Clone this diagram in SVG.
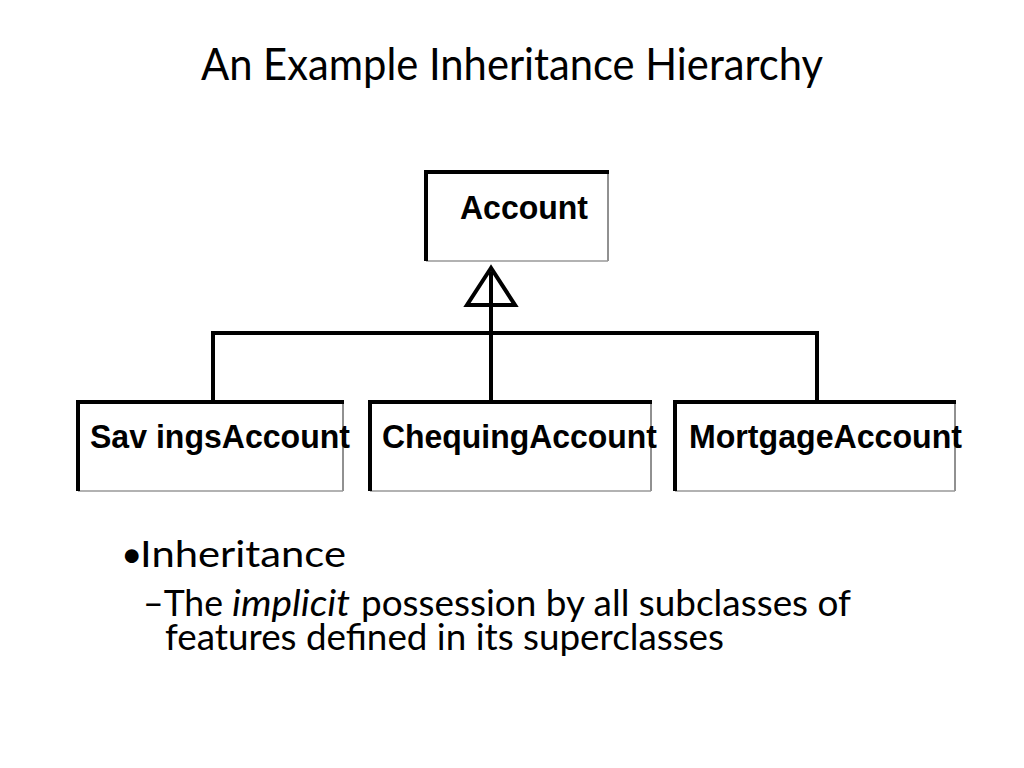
<svg xmlns="http://www.w3.org/2000/svg" width="1024" height="768" viewBox="0 0 1024 768">
<style>
.title{font-family:"Lato","Open Sans","Noto Sans",sans-serif;font-size:44px;fill:#000}
.body{font-family:"Lato","Open Sans","Noto Sans",sans-serif;font-size:37px;fill:#000}
.cls{font-family:"Liberation Sans",Arial,sans-serif;font-weight:bold;font-size:33px;fill:#000}
.box{fill:#fff;stroke:none}
.thick{stroke:#000;stroke-width:4;fill:none}
.thinr{stroke:#222;stroke-width:1;fill:none}
.thinb{stroke:#999;stroke-width:1.5;fill:none}
.conn{stroke:#000;stroke-width:4;fill:none}
</style>
<rect width="1024" height="768" fill="#fff"/>
<text class="title" x="201" y="80" textLength="622" lengthAdjust="spacingAndGlyphs">An Example Inheritance Hierarchy</text>

<g id="connectors">
<line class="conn" x1="491" y1="272" x2="491" y2="402"/>
<line class="conn" x1="213" y1="333" x2="819" y2="333"/>
<line class="conn" x1="213" y1="331" x2="213" y2="402"/>
<line class="conn" x1="817" y1="331" x2="817" y2="402"/>
<polygon class="conn" points="491,268 467,305 515,305" stroke-linejoin="miter"/>
</g>

<g id="account">
<rect class="box" x="426" y="172" width="182" height="89"/>
<line class="thinr" x1="608" y1="172" x2="608" y2="261"/>
<line class="thinb" x1="426" y1="261" x2="608" y2="261"/>
<polyline class="thick" points="426,261 426,172 609,172"/>
<text class="cls" x="460" y="219" textLength="128" lengthAdjust="spacingAndGlyphs">Account</text>
</g>

<g id="savings">
<rect class="box" x="78" y="402" width="265" height="89"/>
<line class="thinr" x1="343" y1="402" x2="343" y2="491"/>
<line class="thinb" x1="78" y1="491" x2="343" y2="491"/>
<polyline class="thick" points="78,491 78,402 344,402"/>
<text class="cls" x="90" y="448" textLength="260" lengthAdjust="spacingAndGlyphs">Sav ingsAccount</text>
</g>

<g id="chequing">
<rect class="box" x="370" y="402" width="281" height="89"/>
<line class="thinr" x1="651" y1="402" x2="651" y2="491"/>
<line class="thinb" x1="370" y1="491" x2="651" y2="491"/>
<polyline class="thick" points="370,491 370,402 652,402"/>
<text class="cls" x="382" y="448" textLength="275" lengthAdjust="spacingAndGlyphs">ChequingAccount</text>
</g>

<g id="mortgage">
<rect class="box" x="675" y="402" width="280" height="89"/>
<line class="thinr" x1="955" y1="402" x2="955" y2="491"/>
<line class="thinb" x1="675" y1="491" x2="955" y2="491"/>
<polyline class="thick" points="675,491 675,402 956,402"/>
<text class="cls" x="689" y="448" textLength="273" lengthAdjust="spacingAndGlyphs">MortgageAccount</text>
</g>

<text class="body" x="121" y="567" font-size="36">•</text>
<text class="body" x="140" y="567" font-size="41" textLength="206" lengthAdjust="spacingAndGlyphs">Inheritance</text>
<text class="body" x="143" y="616" textLength="80" lengthAdjust="spacingAndGlyphs">–The</text>
<text class="body" x="232" y="616" font-style="italic" textLength="118" lengthAdjust="spacingAndGlyphs">implicit</text>
<text class="body" x="361" y="616" textLength="490" lengthAdjust="spacingAndGlyphs">possession by all subclasses of</text>
<text class="body" x="165" y="650" textLength="559" lengthAdjust="spacingAndGlyphs">features defined in its superclasses</text>
</svg>
